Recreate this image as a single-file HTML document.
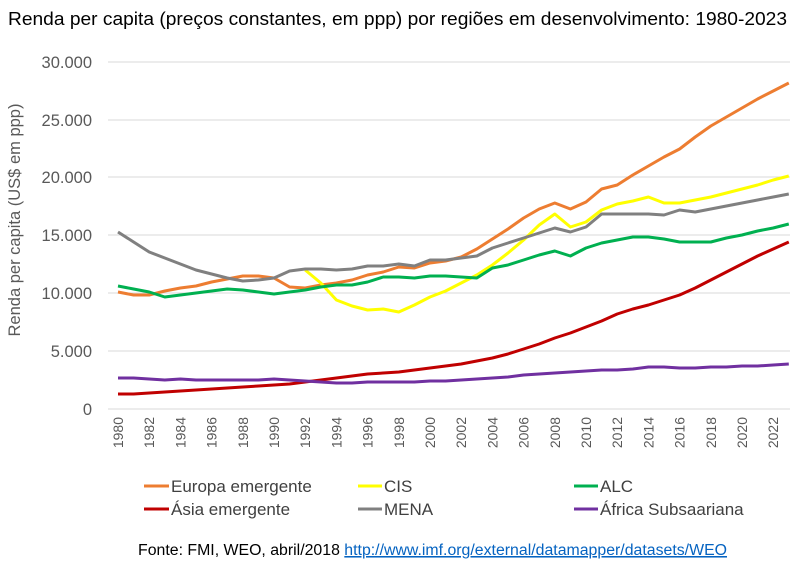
<!DOCTYPE html>
<html><head><meta charset="utf-8"><style>
body{margin:0;background:#fff;width:800px;height:564px;overflow:hidden;font-family:"Liberation Sans",sans-serif}
</style></head><body>
<svg width="800" height="564" xmlns="http://www.w3.org/2000/svg" font-family="Liberation Sans, sans-serif">
<text x="8" y="25" font-size="18.8" fill="#000" textLength="779" lengthAdjust="spacingAndGlyphs">Renda per capita (preços constantes, em ppp) por regiões em desenvolvimento: 1980-2023</text>
<g stroke="#d9d9d9" stroke-width="1">
<line x1="108" y1="62" x2="790" y2="62"/><line x1="108" y1="120" x2="790" y2="120"/><line x1="108" y1="177" x2="790" y2="177"/><line x1="108" y1="235" x2="790" y2="235"/><line x1="108" y1="293" x2="790" y2="293"/><line x1="108" y1="351" x2="790" y2="351"/><line x1="108" y1="409" x2="790" y2="409"/>
</g>
<g font-size="16.5" fill="#595959" text-anchor="end">
<text x="92" y="68">30.000</text><text x="92" y="126">25.000</text><text x="92" y="183">20.000</text><text x="92" y="241">15.000</text><text x="92" y="299">10.000</text><text x="92" y="357">5.000</text><text x="92" y="415">0</text>
</g>
<text transform="translate(20,220) rotate(-90)" font-size="16.5" fill="#595959" text-anchor="middle">Renda per capita (US$ em ppp)</text>
<g font-size="14" fill="#595959" text-anchor="end" id="xl"></g>
<g fill="none" stroke-width="3" stroke-linejoin="round" id="series"></g>
<g font-size="17" fill="#404040">
<line x1="144" y1="486" x2="169" y2="486" stroke="#ed7d31" stroke-width="3"/><text x="171" y="492">Europa emergente</text>
<line x1="358" y1="486" x2="382" y2="486" stroke="#ffff00" stroke-width="3"/><text x="384" y="492">CIS</text>
<line x1="574" y1="486" x2="598" y2="486" stroke="#00b050" stroke-width="3"/><text x="600" y="492">ALC</text>
<line x1="144" y1="509" x2="169" y2="509" stroke="#c00000" stroke-width="3"/><text x="171" y="515">Ásia emergente</text>
<line x1="358" y1="509" x2="382" y2="509" stroke="#808080" stroke-width="3"/><text x="384" y="515">MENA</text>
<line x1="574" y1="509" x2="598" y2="509" stroke="#7030a0" stroke-width="3"/><text x="600" y="515">África Subsaariana</text>
</g>
<text x="138" y="555" font-size="15.5" fill="#000" textLength="589" lengthAdjust="spacingAndGlyphs">Fonte: FMI, WEO, abril/2018 <tspan fill="#0563c1" text-decoration="underline">http://www.imf.org/external/datamapper/datasets/WEO</tspan></text>
</svg>
<script>
const X=y=>118+(y-1980)*15.6;
const xl=document.getElementById('xl');
let s='';
for(let y=1980;y<=2022;y+=2){s+=`<text transform="translate(${X(y)+5},417) rotate(-90)">${y}</text>`;}
xl.innerHTML=s;
const D={
"#ed7d31":[1980,[292,295,295,291,288,286,282,279,276,276,278,287,288,285,283,280,275,272,267,268,263,261,257,249,239,229,218,209,203,209,202,189,185,175,166,157,149,137,126,117,108,99,91,83]],
"#ffff00":[1992,[270,283,300,306,310,309,312,305,297,291,283,275,265,253,240,225,214,227,222,210,204,201,197,203,203,200,197,193,189,185,180,176]],
"#00b050":[1980,[286,289,292,297,295,293,291,289,290,292,294,292,290,287,285,285,282,277,277,278,276,276,277,278,268,265,260,255,251,256,248,243,240,237,237,239,242,242,242,238,235,231,228,224]],
"#808080":[1980,[232,242,252,258,264,270,274,278,281,280,278,271,269,269,270,269,266,266,264,266,260,260,258,256,248,243,238,233,228,232,227,214,214,214,214,215,210,212,209,206,203,200,197,194]],
"#c00000":[1980,[394,394,393,392,391,390,389,388,387,386,385,384,382,380,378,376,374,373,372,370,368,366,364,361,358,354,349,344,338,333,327,321,314,309,305,300,295,288,280,272,264,256,249,242]],
"#7030a0":[1980,[378,378,379,380,379,380,380,380,380,380,379,380,381,382,383,383,382,382,382,382,381,381,380,379,378,377,375,374,373,372,371,370,370,369,367,367,368,368,367,367,366,366,365,364]]
};
let h='';
for(const c in D){const [y0,a]=D[c];h+=`<polyline stroke="${c}" points="${a.map((v,i)=>X(y0+i).toFixed(1)+','+v).join(' ')}"/>`;}
document.getElementById('series').innerHTML=h;
</script>
</body></html>
